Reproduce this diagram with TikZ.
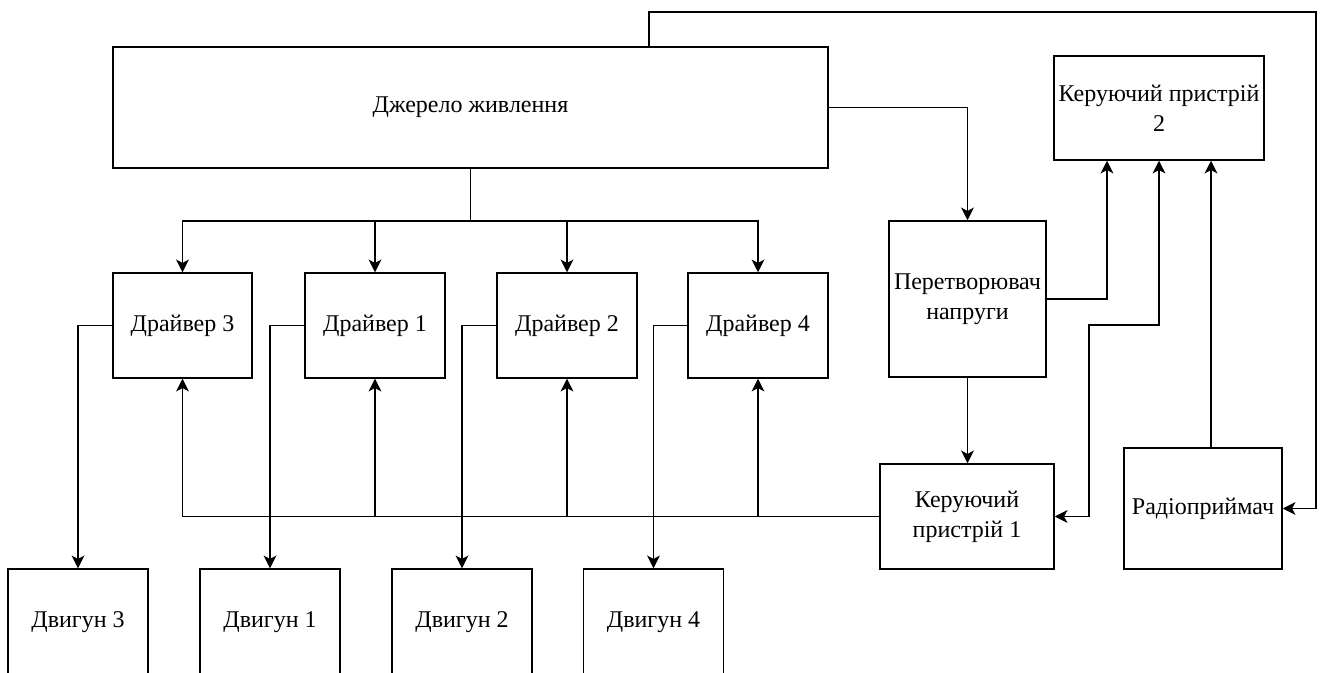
\documentclass[tikz,border=0pt]{standalone}
\usepackage{fontspec}
\setmainfont{Liberation Serif}
\usetikzlibrary{arrows.meta,calc}
\begin{document}
\begin{tikzpicture}[x=0.75pt,y=-0.75pt,
  box/.style={draw=black, line width=1.1pt, fill=white, inner sep=0pt, align=center,
    font=\fontsize{18}{22.5}\selectfont},
  conn/.style={line width=1.1pt, draw=black},
  arr/.style={conn, -{Stealth[length=9.5pt,width=9.5pt,inset=2.5pt]}},
  arrb/.style={conn, {Stealth[length=9.5pt,width=9.5pt,inset=2.5pt]}-{Stealth[length=9.5pt,width=9.5pt,inset=2.5pt]}}
]
\useasboundingbox (0,0) rectangle (1321,673);
% boxes
\node[box, minimum width=536.25pt, minimum height=90.75pt] (src) at (470.5,107.5) {Джерело живлення};
\node[box, minimum width=157.5pt, minimum height=78pt] (k2) at (1159,108) {Керуючий пристрій\\2};
\node[box, minimum width=117.75pt, minimum height=117pt] (conv) at (967.5,299) {Перетворювач\\напруги};
\node[box, minimum width=104.25pt, minimum height=78.75pt] (d3) at (182.5,325.5) {Драйвер 3};
\node[box, minimum width=105pt, minimum height=78.75pt] (d1) at (375,325.5) {Драйвер 1};
\node[box, minimum width=105pt, minimum height=78.75pt] (d2) at (567,325.5) {Драйвер 2};
\node[box, minimum width=105pt, minimum height=78.75pt] (d4) at (758,325.5) {Драйвер 4};
\node[box, minimum width=130.5pt, minimum height=78.75pt] (k1) at (967,516.5) {Керуючий\\пристрій 1};
\node[box, minimum width=118.5pt, minimum height=90.75pt] (radio) at (1203,508.5) {Радіоприймач};
\node[box, minimum width=105pt, minimum height=79.5pt] (m3) at (78,622) {Двигун 3};
\node[box, minimum width=105pt, minimum height=79.5pt] (m1) at (270,622) {Двигун 1};
\node[box, minimum width=105pt, minimum height=79.5pt] (m2) at (462,622) {Двигун 2};
\node[box, minimum width=105pt, minimum height=79.5pt] (m4) at (653.5,622) {Двигун 4};
% power source to radio receiver (top loop)
\draw[arr] (src.north -| 649,0) -- (649,12) -- (1316,12) |- (radio.east);
% power source to voltage converter
\draw[arr] (src.east) -| (conv.north);
% power source to drivers
\coordinate (bus) at (src.south |- 0,221);
\draw[conn] (src.south) -- (bus);
\foreach \d in {d3,d1,d2,d4} \draw[arr] (bus) -| (\d.north);
% converter to controller 2 and controller 1
\draw[arr] (conv.east) -| (k2.south -| 1107,0);
\draw[arr] (conv.south) -- (conv.south |- k1.north);
% controller 2 <-> controller 1
\draw[arrb] (k2.south) |- (1089,325) |- (k1.east);
% radio to controller 2
\draw[arr] (radio.north -| 1211,0) -- (k2.south -| 1211,0);
% controller 1 to drivers
\draw[arr] (k1.west) -| (d3.south);
\foreach \d in {d1,d2,d4} \draw[arr] (\d.south |- k1.west) -- (\d.south);
% drivers to motors
\draw[arr] (d3.west) -| (m3.north);
\draw[arr] (d1.west) -| (m1.north);
\draw[arr] (d2.west) -| (m2.north);
\draw[arr] (d4.west) -| (m4.north);
\end{tikzpicture}
\end{document}
